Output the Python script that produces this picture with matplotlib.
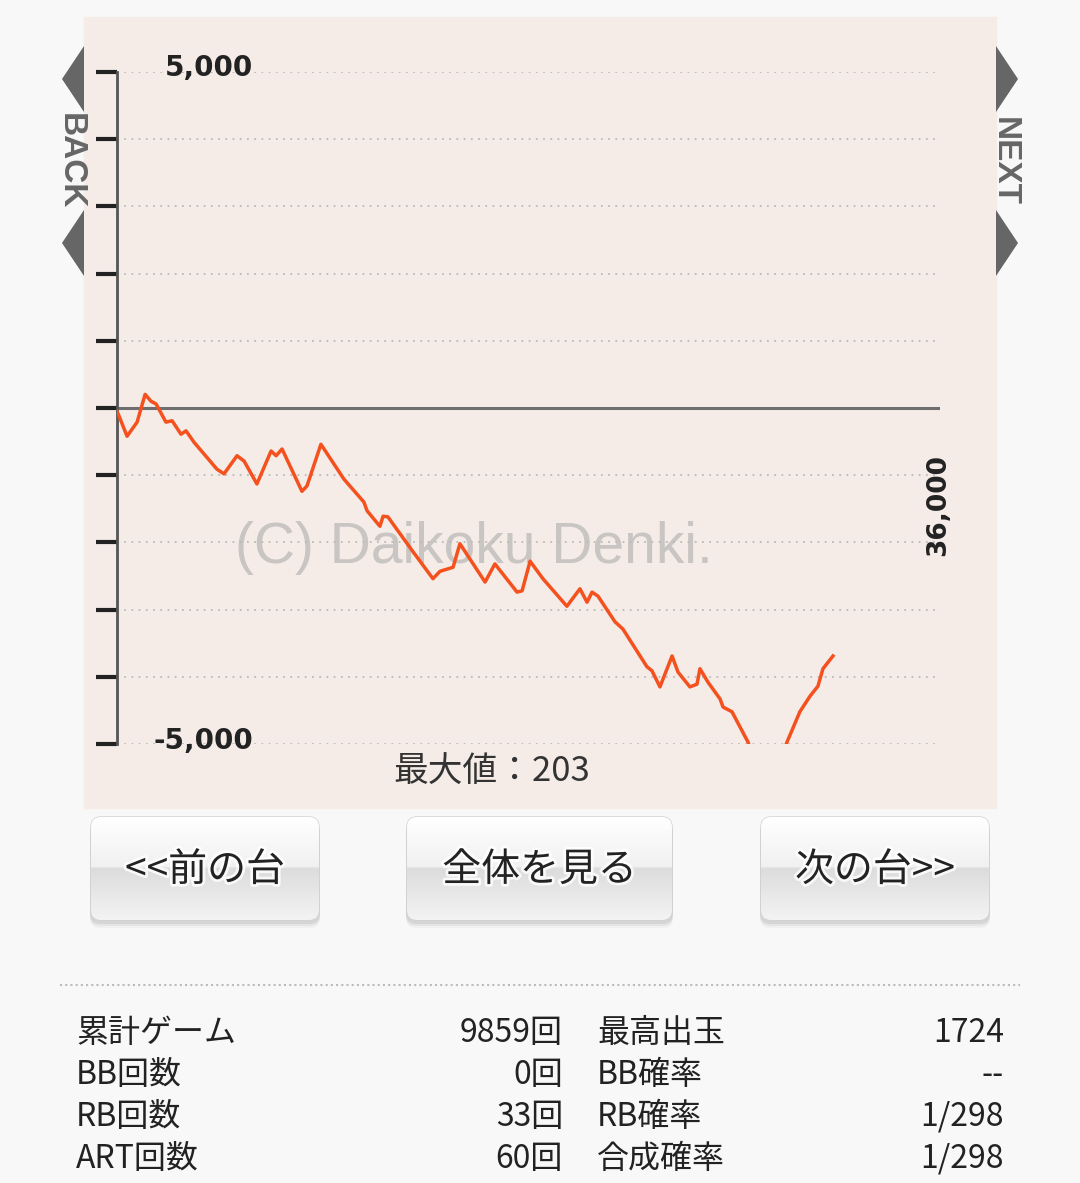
import numpy as np
import matplotlib
matplotlib.use('Agg')
import matplotlib.pyplot as plt
from matplotlib.patches import FancyBboxPatch, Polygon, Rectangle
from matplotlib.colors import LinearSegmentedColormap
import matplotlib.patheffects as pe

plt.rcParams['font.family'] = ['Noto Sans CJK JP', 'DejaVu Sans']

# グラフのデータ（横軸は 0〜36,000 の目盛り単位）
games = [0, 90, 440, 880, 1230, 1490, 1710, 2140, 2410, 2800,
         3020, 3370, 4370, 4680, 5250, 5560, 6120, 6740, 6960, 7220,
         8090, 8310, 8920, 9930, 10800, 10940, 11500, 11640, 11850, 12950,
         13820, 14130, 14700, 15000, 16100, 16530, 17500, 17720, 18070, 18630,
         19680, 20250, 20560, 20780, 21040, 21780, 22130, 23180, 23400, 23750,
         24280, 24540, 25060, 25370, 25500, 25850, 26380, 26510, 26900, 27600,
         28430, 29310, 29870, 30310, 30660, 30880, 31320]
diff = [-50, -120, -420, -210, 203, 100, 60, -210, -190, -390,
        -340, -510, -910, -980, -710, -790, -1130, -640, -710, -610,
        -1240, -1160, -540, -1060, -1400, -1530, -1760, -1610, -1620, -2140,
        -2540, -2430, -2370, -2020, -2590, -2320, -2740, -2720, -2280, -2540,
        -2950, -2690, -2890, -2740, -2800, -3180, -3290, -3850, -3910, -4150,
        -3690, -3930, -4150, -4110, -3880, -4080, -4330, -4450, -4520, -4970,
        -5800, -4970, -4520, -4290, -4140, -3880, -3690]

y_ticks = [-5000, -4000, -3000, -2000, -1000, 0, 1000, 2000, 3000, 4000, 5000]
x_max = 36000
max_label = '最大値：203'
buttons = ['<<前の台', '全体を見る', '次の台>>']

stat_left = ['累計ゲーム', 'BB回数', 'RB回数', 'ART回数']
stat_left_val = ['9859回', '0回', '33回', '60回']
stat_right = ['最高出玉', 'BB確率', 'RB確率', '合成確率']
stat_right_val = ['1724', '--', '1/298', '1/298']

W, H = 1080, 1183
fig = plt.figure(figsize=(W / 100, H / 100), dpi=100)
fig.patch.set_facecolor('#f8f8f8')

# 背景・装飾用のピクセル座標の軸
bg = fig.add_axes([0, 0, 1, 1])
bg.set_axis_off()

# グラフパネル
bg.add_patch(Rectangle((84, 17), 912, 791, color='#f5ece8', zorder=0))

# BACK / NEXT タブ
tab = '#666666'
for y0 in (46, 210):
    bg.add_patch(Polygon([(84, y0), (62, y0 + 33), (84, y0 + 66)], closed=True, color=tab, lw=0))
    bg.add_patch(Polygon([(996, y0), (1018, y0 + 33), (996, y0 + 66)], closed=True, color=tab, lw=0))
bg.text(70, 161, 'BACK', rotation=-90, ha='center', va='center', color=tab,
        fontsize=24, fontweight='bold', family='Liberation Sans')
bg.text(1004, 161, 'NEXT', rotation=-90, ha='center', va='center', color=tab,
        fontsize=24, fontweight='bold', family='Liberation Sans')

# ウォーターマーク
bg.text(474, 548, '(C) Daikoku Denki.', ha='center', va='center', color='#c9c5c2',
        fontsize=41, family='Liberation Sans', zorder=1)

bg.text(492, 772, max_label, ha='center', va='center', color='#333333', fontsize=25)

# ボタン
grad_cmap = LinearSegmentedColormap.from_list('btn', [
    (0.0, '#ffffff'), (0.48, '#f1f1f1'), (0.5, '#dcdcdc'),
    (0.75, '#e8e8e8'), (1.0, '#f3f3f3')])
grad = np.linspace(0, 1, 256)[:, None]
btn_x = [(91, 319), (407, 672), (761, 989)]
by0, by1 = 817, 920
for (x0, x1), label in zip(btn_x, buttons):
    for k, a in [(8, 0.05), (6, 0.08), (4, 0.12)]:
        bg.add_patch(FancyBboxPatch((x0 - 1, by0 + k), x1 - x0 + 2, by1 - by0,
                                    boxstyle='round,pad=0,rounding_size=10',
                                    fc='#666666', ec='none', alpha=a, zorder=2))
    patch = FancyBboxPatch((x0, by0), x1 - x0, by1 - by0,
                           boxstyle='round,pad=0,rounding_size=10',
                           fc='white', ec='#d0d0d0', lw=1, zorder=3)
    bg.add_patch(patch)
    im = bg.imshow(grad, extent=(x0, x1, by1, by0), cmap=grad_cmap, aspect='auto', zorder=3.5)
    im.set_clip_path(patch)
    bg.text((x0 + x1) / 2, 870, label, ha='center', va='center', fontsize=28,
            color='#222222', zorder=5,
            path_effects=[pe.withStroke(linewidth=4, foreground='white', alpha=0.8)])

# 区切り線
bg.plot([60, 1020], [985, 985], ls=(0, (1, 1.5)), color='#bbbbbb', lw=1.5)

# 集計表
row_y = [1033, 1075, 1117, 1159]
for i, yy in enumerate(row_y):
    bg.text(76, yy, stat_left[i], ha='left', va='center', fontsize=23, color='#222222')
    bg.text(563, yy, stat_left_val[i], ha='right', va='center', fontsize=23, color='#222222')
    bg.text(597, yy, stat_right[i], ha='left', va='center', fontsize=23, color='#222222')
    bg.text(1004, yy, stat_right_val[i], ha='right', va='center', fontsize=23, color='#222222')

bg.set_xlim(0, W)
bg.set_ylim(H, 0)

# グラフ本体
ax = fig.add_axes([117 / W, 1 - 744 / H, (940 - 117) / W, (744 - 72) / H])
ax.set_facecolor('none')
ax.set_xlim(0, x_max)
ax.set_ylim(-5000, 5000)
for s in ['top', 'right', 'bottom']:
    ax.spines[s].set_visible(False)
ax.spines['left'].set_color('#555555')
ax.spines['left'].set_linewidth(2)
ax.set_yticks(y_ticks)
ax.set_yticklabels([])
ax.set_xticks([])
ax.tick_params(axis='y', length=15, width=3, color='#222222', direction='out')

for t in y_ticks:
    if t == 0:
        ax.axhline(0, color='#6e6e6e', lw=2.2, zorder=2)
    else:
        ax.axhline(t, color='#bbbbbb', lw=1.3, ls=(0, (1, 3)), zorder=1)

ax.plot(games, diff, color='#f4511e', lw=2.5, zorder=3, solid_joinstyle='round')

ax.text(0.1652, 5060, '5,000', transform=ax.get_yaxis_transform(), ha='right', va='center',
        fontsize=20, fontweight='bold', color='#222222', family='DejaVu Sans')
ax.text(0.1652, -4950, '-5,000', transform=ax.get_yaxis_transform(), ha='right', va='center',
        fontsize=20, fontweight='bold', color='#222222', family='DejaVu Sans')
ax.text((938 - 117) / 823, (744 - 505) / 672, '36,000', transform=ax.transAxes,
        rotation=90, ha='center', va='center', fontsize=19, fontweight='bold',
        color='#222222', family='DejaVu Sans')

fig.savefig('out.png', dpi=100, facecolor=fig.get_facecolor())
